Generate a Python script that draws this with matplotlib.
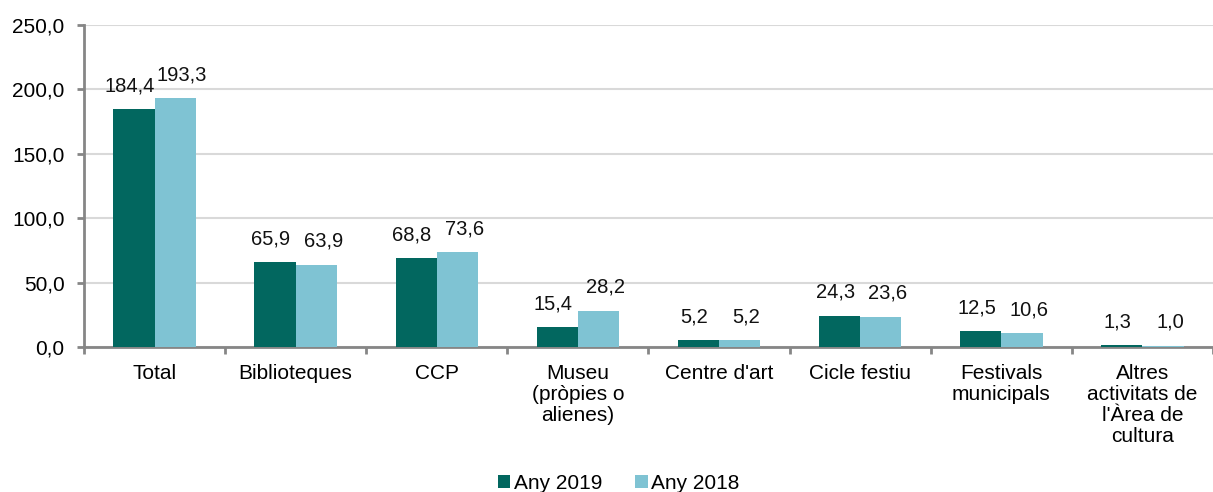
import matplotlib
matplotlib.use('Agg')
import matplotlib.pyplot as plt
import numpy as np

categories = ['Total', 'Biblioteques', 'CCP', 'Museu\n(pròpies o\nalienes)', "Centre d'art",
              'Cicle festiu', 'Festivals\nmunicipals', "Altres\nactivitats de\nl'Àrea de\ncultura"]
any_2019 = [184.4, 65.9, 68.8, 15.4, 5.2, 24.3, 12.5, 1.3]
any_2018 = [193.3, 63.9, 73.6, 28.2, 5.2, 23.6, 10.6, 1.0]
yticks = [0, 50, 100, 150, 200, 250]

plt.rcParams['font.family'] = ['Liberation Sans', 'DejaVu Sans']

def fmt(v):
    return ('%.1f' % v).replace('.', ',')

def main():
    fig = plt.figure(figsize=(12.13, 4.92), dpi=100)
    ax = fig.add_axes([0.0692, 0.2947, 0.9308, 0.6545])

    x = np.arange(len(categories))
    w = 0.292
    b1 = ax.bar(x - w/2, any_2019, w, color='#02675F', label='Any 2019', zorder=3)
    b2 = ax.bar(x + w/2, any_2018, w, color='#7FC3D3', label='Any 2018', zorder=3)

    for r, v in zip(b1, any_2019):
        ax.annotate(fmt(v), (r.get_x() + r.get_width()/2, r.get_height()),
                    xytext=(-3, 10), textcoords='offset points',
                    ha='center', va='bottom', fontsize=14.5, color='#111111')
    for r, v in zip(b2, any_2018):
        ax.annotate(fmt(v), (r.get_x() + r.get_width()/2, r.get_height()),
                    xytext=(5, 10), textcoords='offset points',
                    ha='center', va='bottom', fontsize=14.5, color='#111111')

    ax.set_ylim(0, 250)
    ax.set_xlim(-0.5, 7.445)
    ax.set_yticks(yticks)
    ax.set_yticklabels([fmt(v) for v in yticks], fontsize=15)
    ax.set_xticks(x)
    ax.set_xticklabels(categories, fontsize=15, linespacing=1.15, va='top')
    ax.set_xticks(np.arange(-0.5, 8, 1), minor=True)
    ax.tick_params(axis='x', which='major', length=0, pad=12)
    ax.tick_params(axis='x', which='minor', length=5, width=2, color='#868686', direction='out')
    ax.tick_params(axis='y', length=5, width=2, color='#868686', pad=9)

    ax.yaxis.grid(True, color='#D9D9D9', linewidth=1.5, zorder=0)
    ax.set_axisbelow(True)
    for s in ['top', 'right']:
        ax.spines[s].set_visible(False)
    for s in ['left', 'bottom']:
        ax.spines[s].set_color('#868686')
        ax.spines[s].set_linewidth(2)

    fig.legend(loc='center', bbox_to_anchor=(0.51, 0.018), ncol=2, frameon=False,
               fontsize=15, handlelength=0.6, handleheight=0.6, handletextpad=0.15,
               columnspacing=1.6)

    fig.savefig('out.png', dpi=100)
    plt.close()

if __name__ == '__main__':
    main()
